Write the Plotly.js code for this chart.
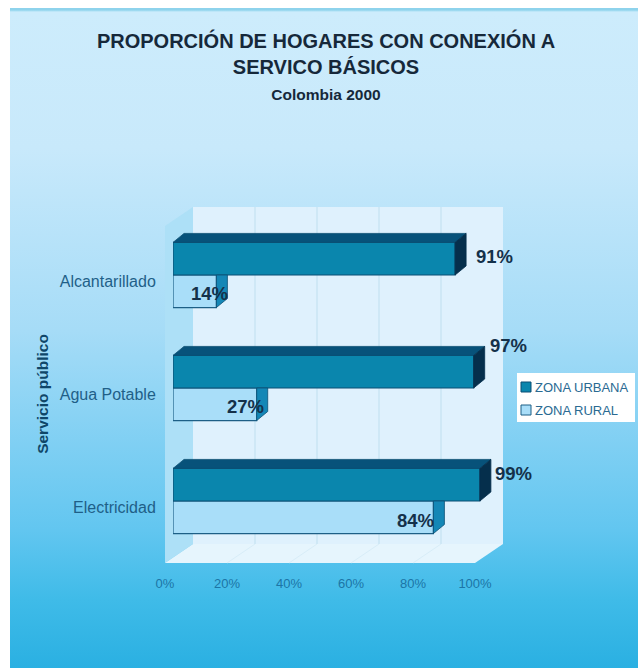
<!DOCTYPE html>
<html><head><meta charset="utf-8">
<script src="https://cdn.plot.ly/plotly-3.0.1.min.js"></script>
<style>
html,body{margin:0;padding:0;background:#fff;width:638px;height:668px;overflow:hidden}
#bg{position:absolute;left:10px;top:8px;width:628px;height:660px;
background:linear-gradient(to bottom,#8ed3ec 0px,#8ed3ec 2px,#cdecfc 4px,#c8e9fb 140px,#a6dcf7 322px,#62c6f0 522px,#3fbbe8 592px,#2ab0e2 660px)}
#chart{position:absolute;left:0;top:0;width:638px;height:668px}
</style></head><body>
<div id="bg"></div><div id="chart"></div>
<script>
const categories = ['Electricidad', 'Agua Potable', 'Alcantarillado'];
const urbana = [99, 97, 91];
const rural = [84, 27, 14];
const seriesNames = ['ZONA URBANA', 'ZONA RURAL'];
const xTicks = [0, 20, 40, 60, 80, 100];

const W = 638, H = 668;
const px = v => v / W, py = v => 1 - v / H;
const fontFam = '"Liberation Sans", Arial, sans-serif';
const C = {urbF:'#0a86ad', urbT:'#07527a', urbS:'#052f4c', urbL:'#0b4f74',
           rurF:'#a9def9', rurS:'#1487b6', rurL:'#1d5f86'};
const barH = 0.288, depthX = 3.55, depthY = 0.08;
const idx = categories.map((c, i) => i);

function poly(xs, ys, fill, line) {
  return {type:'scatter', mode:'lines', x:xs, y:ys, xaxis:'x2', yaxis:'y2', fill:'toself',
    fillcolor:fill, line:{color:line, width:0.8}, hoverinfo:'skip', showlegend:false};
}
const traces = [];
traces.push({type:'scatter', mode:'markers', x:[], y:[], xaxis:'x', yaxis:'y', showlegend:false});
traces.push({type:'bar', orientation:'h', name:seriesNames[1], x:rural, y:idx, xaxis:'x2', yaxis:'y2',
  offset:-barH, width:barH, marker:{color:C.rurF, line:{color:C.rurL, width:1.2}}, showlegend:false});
traces.push({type:'bar', orientation:'h', name:seriesNames[0], x:urbana, y:idx, xaxis:'x2', yaxis:'y2',
  offset:0, width:barH, marker:{color:C.urbF, line:{color:C.urbL, width:1.2}}, showlegend:false});
idx.forEach(i => {
  const u = urbana[i], r = rural[i];
  traces.push(poly([r, r+depthX, r+depthX, r, r], [i, i, i-barH+depthY, i-barH, i], C.rurS, C.urbL));
  traces.push(poly([0, u, u+depthX, depthX, 0], [i+barH, i+barH, i+barH+depthY, i+barH+depthY, i+barH], C.urbT, C.urbL));
  traces.push(poly([u, u+depthX, u+depthX, u, u], [i+barH, i+barH+depthY, i+depthY, i, i+barH], C.urbS, C.urbS));
});
traces.push({type:'scatter', mode:'markers', x:[], y:[], xaxis:'x3', yaxis:'y3', showlegend:false});

// value labels with the hand offsets of the original (pixels, same order as categories)
const lblFont = {family:fontFam, size:18.5, color:'#14314a', weight:'bold'};
const urbShift = [[34, 11], [34.5, 26], [39, 2.5]];
const rurShift = [[-18, -3], [-11.5, -2], [-6.5, -2]];
const annots = [];
idx.forEach(i => {
  annots.push({xref:'x2', yref:'y2', x:urbana[i], y:i+barH/2, text:urbana[i]+'%', showarrow:false,
    xshift:urbShift[i][0], yshift:urbShift[i][1], font:lblFont});
  annots.push({xref:'x2', yref:'y2', x:rural[i], y:i-barH/2, text:rural[i]+'%', showarrow:false,
    xshift:rurShift[i][0], yshift:rurShift[i][1], font:lblFont});
});

// legend
const shapes = [];
shapes.push({type:'rect', xref:'paper', yref:'paper', x0:px(517), x1:px(635), y0:py(373), y1:py(422),
  fillcolor:'#ffffff', line:{width:0}, layer:'below'});
seriesNames.forEach((n, k) => {
  const cy = 387 + k * 23;
  annots.push({xref:'paper', yref:'paper', x:px(533), y:py(cy), xanchor:'left', yanchor:'middle', text:n,
    showarrow:false, font:{family:fontFam, size:13, color:'#2a6a92'}});
  shapes.push({type:'rect', xref:'paper', yref:'paper', x0:px(521), x1:px(531), y0:py(cy-5), y1:py(cy+5),
    fillcolor:k ? C.rurF : C.urbF, line:{color:k ? C.rurL : C.urbL, width:1}, layer:'above'});
});

// back wall, side wall and floor
function path(pts){ return 'M' + pts.map(p => px(p[0]) + ',' + py(p[1])).join('L') + 'Z'; }
shapes.push({type:'rect', xref:'paper', yref:'paper', x0:px(193), x1:px(503), y0:py(207), y1:py(544),
  fillcolor:'#dff1fd', line:{width:0}, layer:'below'});
shapes.push({type:'path', xref:'paper', yref:'paper', path:path([[165,226],[193,207],[193,544],[165,563]]),
  fillcolor:'#ade0f7', line:{width:0}, layer:'below'});
shapes.push({type:'path', xref:'paper', yref:'paper', path:path([[165,563],[193,544],[503,544],[475,563]]),
  fillcolor:'#e6f5fd', line:{width:0}, layer:'below'});
xTicks.forEach(t => {
  if (t === 0 || t === 100) return;
  const f = 165 + 3.1 * t;
  shapes.push({type:'line', xref:'paper', yref:'paper', x0:px(f), y0:py(563), x1:px(f+28), y1:py(544),
    line:{color:'#d8edf8', width:1}, layer:'below'});
});

const layout = {
  width:W, height:H, margin:{l:0, r:0, t:0, b:0},
  paper_bgcolor:'rgba(0,0,0,0)', plot_bgcolor:'rgba(0,0,0,0)',
  barmode:'overlay', showlegend:false,
  title:{text:'PROPORCIÓN DE HOGARES CON CONEXIÓN A<br>SERVICO BÁSICOS<br><span style="font-size:15.5px">Colombia 2000</span>',
    x:326/W, xanchor:'center', y:py(48), yanchor:'top', font:{family:fontFam, size:20, color:'#16283a', weight:'bold'}},
  xaxis:{domain:[px(193), px(503)], range:[0,100], tickvals:xTicks.slice(1,-1), showticklabels:false, ticks:'',
    showgrid:true, gridcolor:'#cfe8f6', gridwidth:2, zeroline:false, showline:false, anchor:'y', fixedrange:true},
  yaxis:{domain:[py(544), py(207)], range:[0,1], showticklabels:false, ticks:'', showgrid:false, zeroline:false, anchor:'x', fixedrange:true},
  xaxis2:{domain:[px(173), px(545)], range:[0,120], visible:false, anchor:'y2', fixedrange:true},
  yaxis2:{domain:[py(557.5), py(218.5)], range:[-0.5,2.5], visible:false, anchor:'x2', fixedrange:true},
  xaxis3:{domain:[px(165), px(475)], range:[0,100], tickvals:xTicks, ticktext:xTicks.map(t => t+'%'), anchor:'y3', showgrid:false, zeroline:false,
    showline:false, ticks:'outside', ticklen:8, tickcolor:'rgba(0,0,0,0)', tickfont:{family:fontFam, size:13, color:'#1c75a6'}, fixedrange:true},
  yaxis3:{domain:[py(563.5), py(224.5)], range:[-0.5,2.5], tickvals:idx, ticktext:categories, anchor:'x3', showgrid:false, zeroline:false,
    showline:false, ticks:'outside', ticklen:5, tickcolor:'rgba(0,0,0,0)', tickfont:{family:fontFam, size:16, color:'#1f5f88'},
    title:{text:'Servicio público', standoff:7, font:{family:fontFam, size:15.5, color:'#0f4668', weight:'bold'}}, fixedrange:true},
  shapes:shapes, annotations:annots
};
Plotly.newPlot('chart', traces, layout, {displayModeBar:false, staticPlot:true});
</script></body></html>
